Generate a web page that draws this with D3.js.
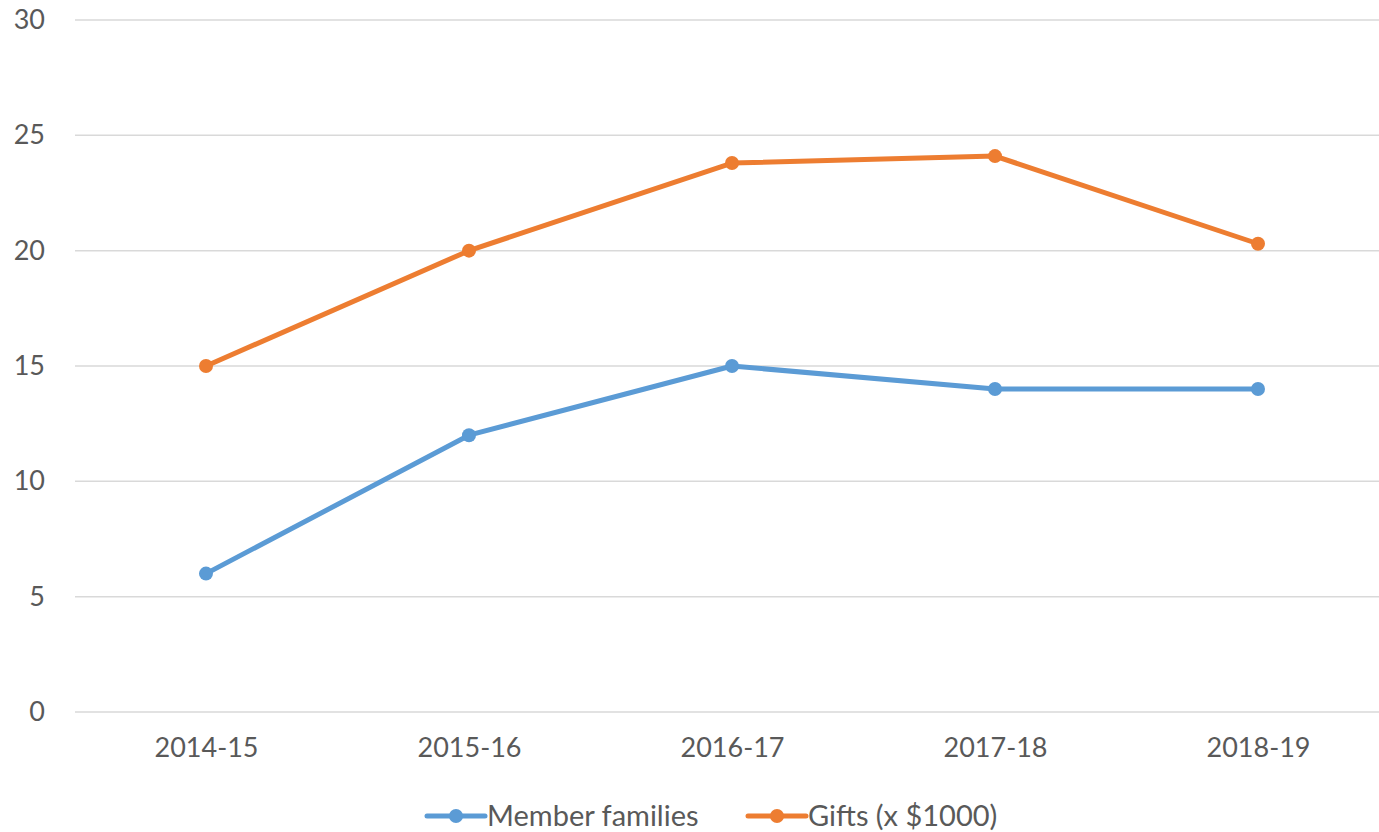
<!DOCTYPE html>
<html>
<head>
<meta charset="utf-8">
<script src="https://cdn.jsdelivr.net/npm/d3@7"></script>
<style>
  body { margin: 0; background: #fff; overflow: hidden; }
  text { font-family: Lato, "Open Sans", sans-serif; fill: #595959; }
</style>
</head>
<body>
<script>
const seasons = ['2014-15', '2015-16', '2016-17', '2017-18', '2018-19'];
const memberFamilies = [6, 12, 15, 14, 14];
const gifts = [15, 20, 23.8, 24.1, 20.3];
const yTicks = [0, 5, 10, 15, 20, 25, 30];
const seriesNames = ['Member families', 'Gifts (x $1000)'];
const seriesColors = ['#5B9BD5', '#ED7D31'];

const svgWidth = 1379;
const svgHeight = 832;

const svg = d3.select('body')
              .append('svg')
              .attr('width', svgWidth)
              .attr('height', svgHeight);

// Scales
const xScale = d3.scalePoint()
                 .domain(seasons)
                 .range([206, 1258]);

const yScale = d3.scaleLinear()
                 .domain([0, 30])
                 .range([712, 20]);

// Gridlines
svg.append('g')
   .selectAll('line')
   .data(yTicks)
   .enter()
   .append('line')
   .attr('x1', 75)
   .attr('x2', svgWidth)
   .attr('y1', (d) => yScale(d))
   .attr('y2', (d) => yScale(d))
   .attr('stroke', '#D9D9D9')
   .attr('stroke-width', 1.5);

// Y axis labels
const yAxis = d3.axisLeft(yScale).tickValues(yTicks).tickSize(0).tickPadding(0);
const yAxisG = svg.append('g')
                  .attr('transform', 'translate(45,0)')
                  .call(yAxis);
yAxisG.select('.domain').remove();
yAxisG.selectAll('text').style('font-size', '27px').attr('fill', '#595959');

// X axis labels
const xAxis = d3.axisBottom(xScale).tickSize(0).tickPadding(0);
const xAxisG = svg.append('g')
                  .attr('transform', 'translate(0,738)')
                  .call(xAxis);
xAxisG.select('.domain').remove();
xAxisG.selectAll('text').style('font-size', '27px').attr('fill', '#595959');

// Lines and markers
const line = d3.line()
               .x((d, i) => xScale(seasons[i]))
               .y((d) => yScale(d));

[memberFamilies, gifts].forEach((values, k) => {
  svg.append('path')
     .datum(values)
     .attr('d', line)
     .attr('fill', 'none')
     .attr('stroke', seriesColors[k])
     .attr('stroke-width', 5)
     .attr('stroke-linejoin', 'round');

  svg.append('g')
     .selectAll('circle')
     .data(values)
     .enter()
     .append('circle')
     .attr('cx', (d, i) => xScale(seasons[i]))
     .attr('cy', (d) => yScale(d))
     .attr('r', 7)
     .attr('fill', seriesColors[k]);
});

// Legend
const legendX = [427, 748];
const legend = svg.append('g');
seriesNames.forEach((name, k) => {
  const g = legend.append('g').attr('transform', 'translate(' + legendX[k] + ',816)');
  g.append('line')
   .attr('x1', 0).attr('x2', 58)
   .attr('stroke', seriesColors[k])
   .attr('stroke-width', 5)
   .attr('stroke-linecap', 'round');
  g.append('circle')
   .attr('cx', 29).attr('r', 7)
   .attr('fill', seriesColors[k]);
  g.append('text')
   .attr('x', 60)
   .attr('dy', '0.35em')
   .style('font-size', '29px')
   .text(name);
});
</script>
</body>
</html>
